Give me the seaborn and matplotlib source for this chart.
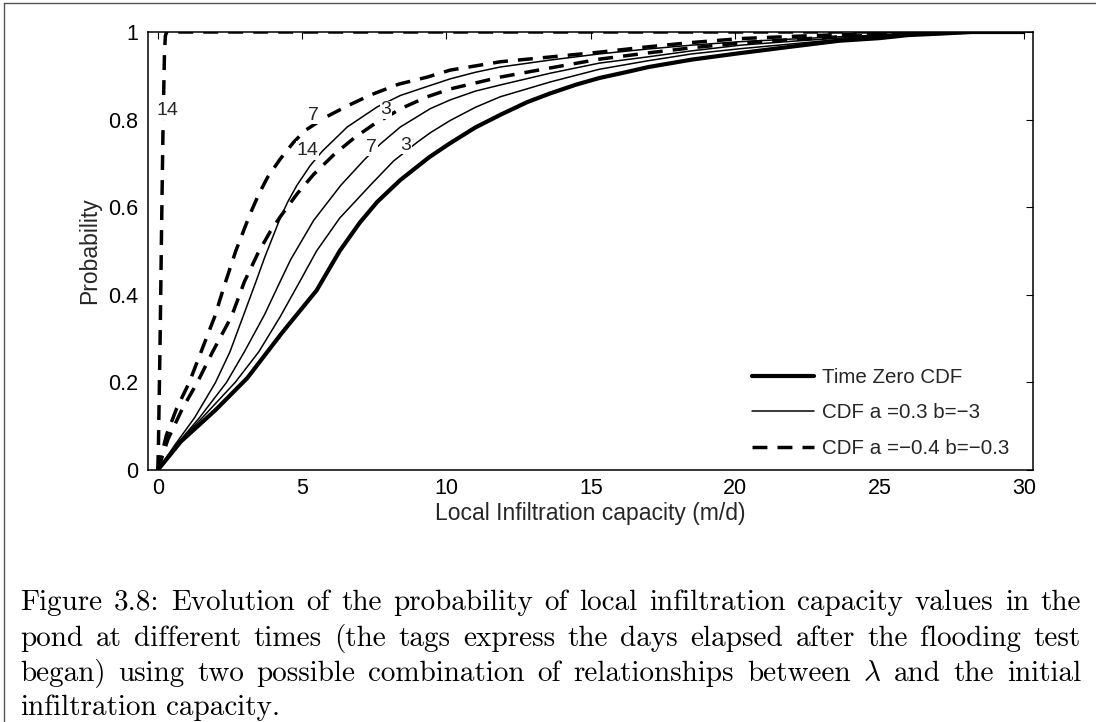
import numpy as np
import pandas as pd
import matplotlib
matplotlib.use("Agg")
import matplotlib.pyplot as plt
import seaborn as sns
from matplotlib.lines import Line2D

# ---------------- data ----------------
t0_x = [0, 0.8, 2.0, 3.1, 4.3, 5.5, 6.3, 7.0, 7.6, 8.4, 9.4, 10.1, 11.0, 11.9, 12.8, 13.6,
        14.5, 15.3, 16.2, 17.0, 18.5, 20.2, 22.0, 23.6, 25.0, 26.0, 27.0, 28.2, 30]
t0_y = [0, 0.065, 0.137, 0.21, 0.313, 0.41, 0.50, 0.565, 0.612, 0.662, 0.714, 0.745, 0.782,
        0.812, 0.84, 0.86, 0.88, 0.895, 0.908, 0.92, 0.937, 0.952, 0.967, 0.98, 0.986,
        0.993, 0.996, 1.0, 1.0]

# thin solid family (a = 0.3, b = -3): days 3, 7, 14
s3_x = [0, 0.8, 1.55, 2.68, 3.5, 4.24, 5.0, 5.5, 6.3, 7.36, 8.16, 8.98, 9.44, 10.13, 11.0,
        11.86, 13.6, 15.3, 16.95, 18.5, 20.2, 22, 23.6, 25, 27, 28.5, 30]
s3_y = [0, 0.068, 0.12, 0.2, 0.27, 0.35, 0.44, 0.50, 0.575, 0.65, 0.705, 0.748, 0.77, 0.798,
        0.828, 0.852, 0.886, 0.915, 0.934, 0.95, 0.962, 0.973, 0.983, 0.99, 0.996, 1.0, 1.0]
s7_x = [0, 0.7, 1.45, 2.38, 3.0, 3.7, 4.2, 4.6, 5.4, 6.34, 7.15, 7.72, 8.4, 9.44, 10.13,
        11.0, 11.86, 13.6, 15.3, 16.95, 18.5, 20.2, 22, 23.6, 25, 27, 28.5, 30]
s7_y = [0, 0.062, 0.12, 0.2, 0.27, 0.355, 0.425, 0.48, 0.57, 0.65, 0.708, 0.745, 0.783,
        0.825, 0.845, 0.865, 0.879, 0.906, 0.929, 0.943, 0.957, 0.97, 0.979, 0.986, 0.992,
        0.997, 1.0, 1.0]
s14_x = [0, 0.6, 1.28, 2.0, 2.5, 2.95, 3.4, 3.7, 4.0, 4.24, 4.5, 4.82, 5.28, 5.7, 6.56, 7.6,
         8.4, 9.44, 10.13, 11.0, 11.86, 13.6, 15.3, 16.95, 18.5, 20.2, 22, 23.6, 25, 27,
         28.5, 30]
s14_y = [0, 0.058, 0.12, 0.2, 0.27, 0.35, 0.43, 0.485, 0.535, 0.575, 0.612, 0.65, 0.695,
         0.728, 0.783, 0.829, 0.855, 0.878, 0.893, 0.908, 0.92, 0.936, 0.95, 0.961, 0.97,
         0.978, 0.984, 0.989, 0.993, 0.997, 1.0, 1.0]

# dashed family (a = -0.4, b = -0.3): days 3, 7, 14
d3_x = [0, 0.35, 0.85, 1.37, 1.9, 2.55, 3.0, 3.47, 3.9, 4.24, 4.82, 5.4, 6.1, 6.8, 7.5, 8.45,
        9.33, 10.13, 11.86, 13.6, 15.3, 16.95, 18.5, 20.2, 22, 23.6, 25, 27, 28.5, 30]
d3_y = [0, 0.07, 0.14, 0.2, 0.27, 0.35, 0.43, 0.495, 0.545, 0.578, 0.63, 0.675, 0.72, 0.758,
        0.79, 0.826, 0.852, 0.87, 0.897, 0.918, 0.938, 0.952, 0.964, 0.975, 0.983, 0.989,
        0.994, 0.998, 1.0, 1.0]
d7_x = [0, 0.3, 0.65, 1.09, 1.5, 1.97, 2.3, 2.7, 3.2, 3.5, 3.8, 4.24, 4.7, 5.1, 5.8, 6.56,
        7.36, 8.35, 9.33, 10.13, 11.86, 13.6, 15.3, 16.95, 18.5, 20.2, 22, 23.6, 25, 27,
        28.5, 30]
d7_y = [0, 0.08, 0.14, 0.2, 0.27, 0.35, 0.42, 0.50, 0.585, 0.63, 0.668, 0.71, 0.748, 0.775,
        0.805, 0.831, 0.856, 0.881, 0.897, 0.913, 0.932, 0.943, 0.954, 0.966, 0.976, 0.985,
        0.99, 0.994, 0.997, 0.999, 1.0, 1.0]
d14_x = [0, 0.02, 0.08, 0.13, 0.18, 0.23, 0.26, 0.3, 30]
d14_y = [0, 0.05, 0.3, 0.55, 0.78, 0.95, 0.99, 1.0, 1.0]

# curve tags (days) and where they sit
tag_text = ["14", "7", "14", "3", "7", "3"]
tag_x = [0.32, 5.39, 5.18, 7.91, 7.41, 8.59]
tag_y = [0.82, 0.81, 0.73, 0.822, 0.737, 0.742]

legend_labels = ["Time Zero CDF", "CDF a =0.3 b=\u22123", "CDF a =\u22120.4 b=\u22120.3"]
x_ticks = [0, 5, 10, 15, 20, 25, 30]
y_ticks = [0, 0.2, 0.4, 0.6, 0.8, 1.0]
y_tick_labels = ["0", "0.2", "0.4", "0.6", "0.8", "1"]

caption_lines = [
    "Figure 3.8: Evolution of the probability of local infiltration capacity values in the",
    "pond at different times (the tags express the days elapsed after the flooding test",
    r"began) using two possible combination of relationships between $\lambda$ and the initial",
    "infiltration capacity.",
]

# ---------------- figure ----------------
sns.set_theme(style="white")
plt.rcParams["font.family"] = ["Liberation Sans", "DejaVu Sans"]
plt.rcParams["mathtext.fontset"] = "cm"

W, H = 1096, 722
fig = plt.figure(figsize=(W / 100, H / 100), dpi=100)
fig.patch.set_facecolor("white")
ax = fig.add_axes([148 / W, 1 - 470 / H, 885 / W, 438 / H])

THICK, THIN, DASH = 3.0, 1.1, 2.5
dash_pat = [4.3, 2.9]

def draw(xs, ys, lw, dashed=False):
    sns.lineplot(x=xs, y=ys, ax=ax, color="black", linewidth=lw, sort=False,
                 estimator=None, legend=False)
    ln = ax.lines[-1]
    if dashed:
        ln.set_dashes(dash_pat)
        ln.set_dash_capstyle("butt")
    return ln

draw(t0_x, t0_y, THICK)
draw(s3_x, s3_y, THIN)
draw(s7_x, s7_y, THIN)
draw(s14_x, s14_y, THIN)
draw(d3_x, d3_y, DASH, True)
draw(d7_x, d7_y, DASH, True)
draw(d14_x, d14_y, DASH, True)

for s, x, y in zip(tag_text, tag_x, tag_y):
    ax.text(x, y, s, ha="center", va="center", fontsize=14, zorder=6,
            bbox=dict(facecolor="white", edgecolor="none", pad=0.6))

ax.set_xlim(-0.34, 30.32)
ax.set_ylim(0, 1)
ax.set_xticks(x_ticks)
ax.set_yticks(y_ticks)
ax.set_yticklabels(y_tick_labels)
ax.tick_params(direction="in", length=5, width=0.8, top=True, right=True,
               labelsize=15.5, colors="black")
ax.tick_params(axis="x", pad=6)
ax.tick_params(axis="y", pad=7)
for sp in ax.spines.values():
    sp.set_visible(True)
    sp.set_color("black")
    sp.set_linewidth(1.1)
ax.grid(False)
ax.set_xlabel("Local Infiltration capacity (m/d)", fontsize=16.5, labelpad=2)
ax.set_ylabel("Probability", fontsize=16.5, labelpad=5)

hl = [Line2D([], [], color="black", lw=THICK),
      Line2D([], [], color="black", lw=THIN),
      Line2D([], [], color="black", lw=DASH, dashes=dash_pat, dash_capstyle="butt")]
ax.legend(hl, legend_labels, loc="upper left", frameon=False, fontsize=14.8,
          bbox_to_anchor=(752 / W, 1 - 368 / H), bbox_transform=fig.transFigure,
          borderaxespad=0, borderpad=0, handlelength=3.0, handletextpad=0.4,
          labelspacing=0.8)

# frame lines around the page region
fig.add_artist(Line2D([4 / W, 4 / W], [0, 1 - 3 / H], transform=fig.transFigure,
                      color="#555555", lw=1))
fig.add_artist(Line2D([4 / W, 1], [1 - 3 / H, 1 - 3 / H], transform=fig.transFigure,
                      color="#555555", lw=1))

# ---------------- justified caption ----------------
cap_font = "cmr10"
x0, x1 = 20, 1081
baselines = [610, 646, 681, 715]
fig.canvas.draw()
renderer = fig.canvas.get_renderer()

def word_widths(words, fs):
    ws = []
    for w in words:
        t = fig.text(0, 0, w, fontsize=fs, family=cap_font)
        ws.append(t.get_window_extent(renderer).width)
        t.remove()
    return ws

probe = fig.text(0, 0, caption_lines[0], fontsize=10, family=cap_font)
nat = probe.get_window_extent(renderer).width
probe.remove()
fs = 10 * 0.98 * (x1 - x0) / nat

for i, (line, base) in enumerate(zip(caption_lines, baselines)):
    words = line.split(" ")
    ws = word_widths(words, fs)
    if i < len(caption_lines) - 1:
        gap = (x1 - x0 - sum(ws)) / (len(words) - 1)
    else:
        sp = fig.text(0, 0, "a a", fontsize=fs, family=cap_font)
        aa = fig.text(0, 0, "aa", fontsize=fs, family=cap_font)
        gap = sp.get_window_extent(renderer).width - aa.get_window_extent(renderer).width
        sp.remove(); aa.remove()
    x = x0
    for w, wd in zip(words, ws):
        fig.text(x / W, 1 - base / H, w, fontsize=fs, family=cap_font,
                 ha="left", va="baseline", color="black")
        x += wd + gap

fig.savefig("out.png", dpi=100, facecolor="white")
